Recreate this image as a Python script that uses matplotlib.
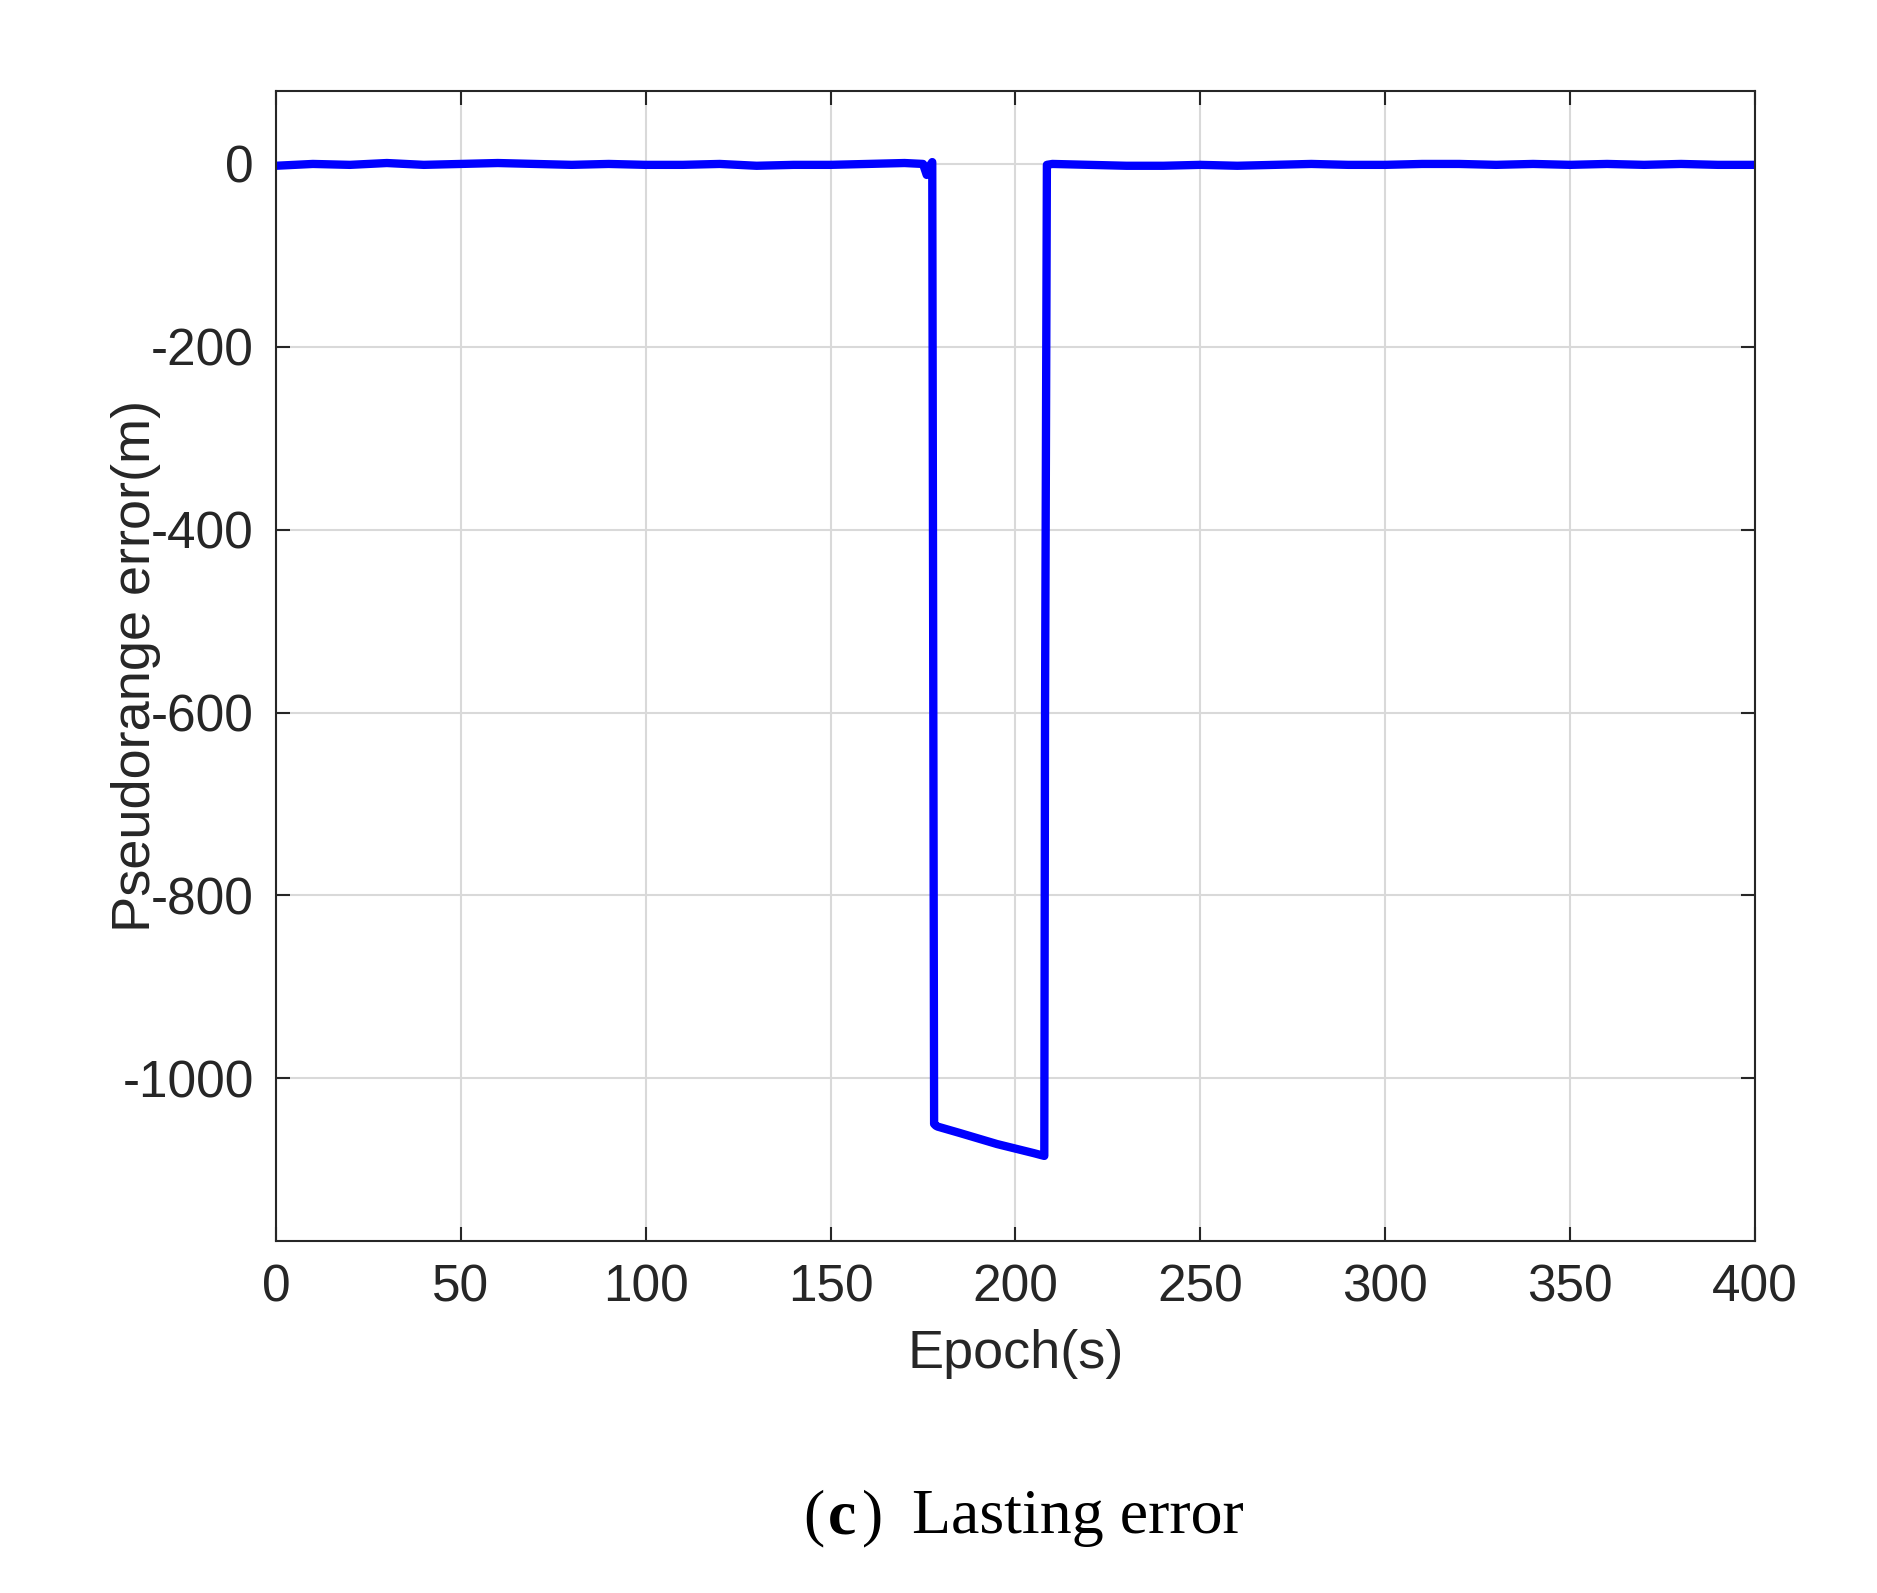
import matplotlib
matplotlib.use("Agg")
import matplotlib.pyplot as plt

epoch = [0, 10, 20, 30, 40, 50, 60, 70, 80, 90, 100, 110, 120, 130, 140, 150, 160, 170, 175, 176, 177, 177.5, 178, 178.5, 179, 185, 190, 195, 200, 205, 207.8, 208, 208.5, 210, 220, 230, 240, 250, 260, 270, 280, 290, 300, 310, 320, 330, 340, 350, 360, 370, 380, 390, 400]
error = [-2, 0, -1, 1, -1, 0, 1, 0, -1, 0, -1, -1, 0, -2, -1, -1, 0, 1, 0, -12, -1, 2, -1050, -1052, -1053, -1060, -1066, -1072, -1077, -1082, -1085, -600, -1, 0, -1, -2, -2, -1, -2, -1, 0, -1, -1, 0, 0, -1, 0, -1, 0, -1, 0, -1, -1]
xticks = [0, 50, 100, 150, 200, 250, 300, 350, 400]
yticks = [0, -200, -400, -600, -800, -1000]

plt.rcParams['font.family'] = ['Liberation Sans', 'DejaVu Sans']
plt.rcParams['axes.unicode_minus'] = False
fig = plt.figure(figsize=(18.77, 15.93), dpi=100)
ax = fig.add_axes([0.147, 0.221, 0.788, 0.722])
ax.plot(epoch, error, color='#0000ff', lw=6, solid_joinstyle='round')
ax.set_xlim(0, 400)
ax.set_ylim(-1178, 80)
ax.set_xticks(xticks)
ax.set_yticks(yticks)
ax.grid(True, color='#d9d9d9', lw=1.5)
ax.tick_params(labelsize=37, direction='in', length=10, width=1.5, top=True, right=True, colors='#262626', pad=16)
for s in ax.spines.values():
    s.set_linewidth(1.5)
    s.set_color('#262626')
ax.set_xlabel('Epoch(s)', fontsize=39, color='#262626', labelpad=12)
ax.set_ylabel('Pseudorange error(m)', fontsize=39, color='#262626', labelpad=-28)
y = 0.047
fig.text(0.428, y, '(', fontsize=46, va='center', family='Liberation Serif')
fig.text(0.441, y, 'c', fontsize=46, va='center', family='Liberation Serif', weight='bold')
fig.text(0.459, y, ')', fontsize=46, va='center', family='Liberation Serif')
fig.text(0.486, y, 'Lasting error', fontsize=46, va='center', family='Liberation Serif')
fig.savefig('out.png', dpi=100, facecolor='white')
